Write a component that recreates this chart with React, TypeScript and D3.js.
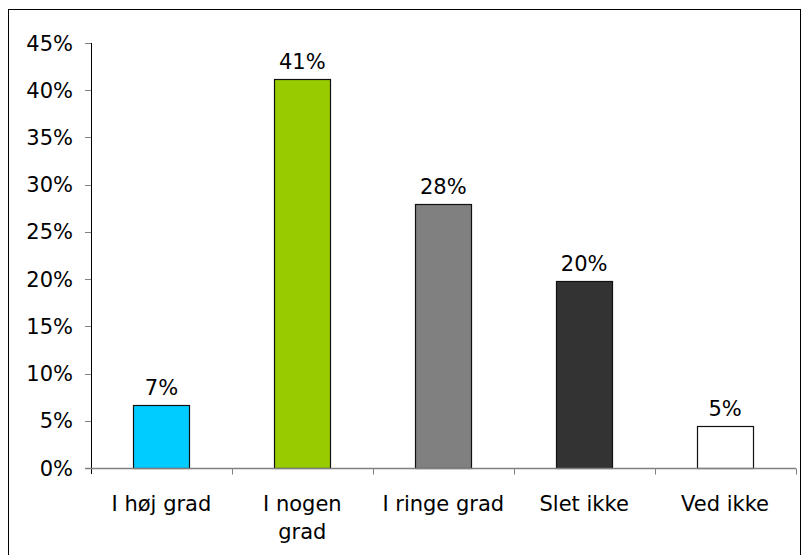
import React, { useEffect, useRef } from 'react';
import * as d3 from 'd3';

const categories = ['I høj grad', 'I nogen grad', 'I ringe grad', 'Slet ikke', 'Ved ikke'];
const labelLines = [['I høj grad'], ['I nogen', 'grad'], ['I ringe grad'], ['Slet ikke'], ['Ved ikke']];
const values = [6.7, 41.2, 28.0, 19.8, 4.4];
const valueLabels = ['7%', '41%', '28%', '20%', '5%'];
const barColors = ['#00CCFF', '#99CC00', '#808080', '#333333', '#FFFFFF'];
const yTicks = [0, 5, 10, 15, 20, 25, 30, 35, 40, 45];

const App: React.FC = () => {
    const svgRef = useRef<SVGSVGElement>(null);

    useEffect(() => {
        if (!svgRef.current) return;
        const svg = d3.select(svgRef.current);
        svg.selectAll("*").remove();

        const width = 802;
        const height = 555;
        const margin = { top: 43, right: 6, bottom: 87, left: 91 };
        const font = "'DejaVu Sans', Verdana, sans-serif";
        const fontSize = "21px";

        // outer frame
        svg.append("rect")
            .attr("x", 8.5).attr("y", 9.5)
            .attr("width", 792).attr("height", 560)
            .attr("fill", "white")
            .attr("stroke", "#000").attr("stroke-width", 1);

        const x = d3.scaleBand()
            .domain(categories)
            .range([margin.left, width - margin.right - 0.5])
            .paddingInner(0.6)
            .paddingOuter(0.3);

        const y = d3.scaleLinear()
            .domain([0, 45])
            .range([height - margin.bottom, margin.top]);

        const step = x.step();
        const bandStart = (c: string) => x(c)! - step * 0.3;

        // bars
        svg.append("g")
            .selectAll("rect")
            .data(values)
            .join("rect")
            .attr("x", (d, i) => Math.round(x(categories[i])!) + 0.5)
            .attr("y", d => Math.round(y(d)) + 0.5)
            .attr("width", Math.round(x.bandwidth()))
            .attr("height", d => Math.round(y(0)) - Math.round(y(d)))
            .attr("fill", (d, i) => barColors[i])
            .attr("stroke", "#111")
            .attr("stroke-width", 1.2);

        // value labels
        svg.append("g")
            .selectAll("text")
            .data(values)
            .join("text")
            .attr("x", (d, i) => x(categories[i])! + x.bandwidth() / 2)
            .attr("y", d => y(d) - 10)
            .attr("text-anchor", "middle")
            .attr("font-family", font)
            .attr("font-size", fontSize)
            .attr("fill", "#000")
            .text((d, i) => valueLabels[i]);

        // y axis
        const yAxis = svg.append("g");
        yAxis.append("line")
            .attr("x1", margin.left + 0.5).attr("x2", margin.left + 0.5)
            .attr("y1", y(45)).attr("y2", y(0) + 6)
            .attr("stroke", "#000");
        yAxis.selectAll("line.tick")
            .data(yTicks)
            .join("line")
            .attr("class", "tick")
            .attr("x1", margin.left - 6).attr("x2", margin.left)
            .attr("y1", d => Math.round(y(d)) + 0.5).attr("y2", d => Math.round(y(d)) + 0.5)
            .attr("stroke", "#808080");
        yAxis.selectAll("text")
            .data(yTicks)
            .join("text")
            .attr("x", margin.left - 18)
            .attr("y", d => y(d))
            .attr("dy", "0.36em")
            .attr("text-anchor", "end")
            .attr("font-family", font)
            .attr("font-size", fontSize)
            .attr("fill", "#000")
            .text(d => `${d}%`);

        // x axis
        const xAxis = svg.append("g");
        const y0 = Math.round(y(0)) + 0.5;
        xAxis.append("line")
            .attr("x1", margin.left - 6).attr("x2", width - margin.right)
            .attr("y1", y0).attr("y2", y0)
            .attr("stroke", "#808080").attr("stroke-width", 1.5);
        const boundaries = categories.map(c => bandStart(c)).concat([bandStart(categories[4]) + step]).slice(1);
        xAxis.selectAll("line.tick")
            .data(boundaries)
            .join("line")
            .attr("class", "tick")
            .attr("x1", d => Math.round(d) + 0.5).attr("x2", d => Math.round(d) + 0.5)
            .attr("y1", y0).attr("y2", y0 + 6)
            .attr("stroke", "#808080");

        const lbl = xAxis.selectAll("text")
            .data(categories)
            .join("text")
            .attr("x", c => x(c)! + x.bandwidth() / 2)
            .attr("y", y0 + 42)
            .attr("text-anchor", "middle")
            .attr("font-family", font)
            .attr("font-size", fontSize)
            .attr("fill", "#000");
        lbl.each(function (c, i) {
            const t = d3.select(this);
            labelLines[i].forEach((line, j) => {
                t.append("tspan")
                    .attr("x", x(c)! + x.bandwidth() / 2)
                    .attr("dy", j === 0 ? 0 : 28)
                    .text(line);
            });
        });
    }, []);

    return (
        <svg ref={svgRef} width={802} height={555}
            style={{ position: 'absolute', left: 0, top: 0, background: 'white' }} />
    );
};

export default App;
